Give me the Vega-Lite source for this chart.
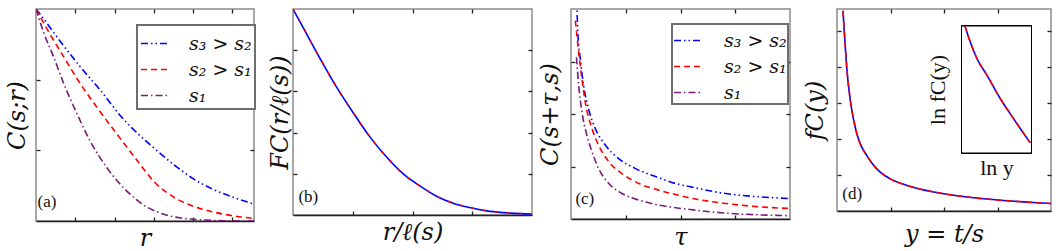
{
  "$schema": "https://vega.github.io/schema/vega-lite/v6.json",
  "padding": {"left": 4, "top": 7, "right": 0, "bottom": 0},
  "bounds": "flush",
  "spacing": 0,
  "resolve": {"scale": {"color": "independent", "strokeDash": "independent"}},
  "datasets": {
    "a": [
      {"series": "s₃ > s₂", "x": 0, "y": 3.0},
      {"series": "s₃ > s₂", "x": 0.114, "y": 2.92},
      {"series": "s₃ > s₂", "x": 0.62, "y": 2.54},
      {"series": "s₃ > s₂", "x": 1.13, "y": 2.18},
      {"series": "s₃ > s₂", "x": 1.64, "y": 1.85},
      {"series": "s₃ > s₂", "x": 2.15, "y": 1.49},
      {"series": "s₃ > s₂", "x": 2.74, "y": 1.16},
      {"series": "s₃ > s₂", "x": 3.0, "y": 1.035},
      {"series": "s₃ > s₂", "x": 3.5, "y": 0.8},
      {"series": "s₃ > s₂", "x": 4.0, "y": 0.6},
      {"series": "s₃ > s₂", "x": 4.5, "y": 0.45},
      {"series": "s₃ > s₂", "x": 5.0, "y": 0.34},
      {"series": "s₃ > s₂", "x": 5.55, "y": 0.24},
      {"series": "s₂ > s₁", "x": 0, "y": 3.0},
      {"series": "s₂ > s₁", "x": 0.37, "y": 2.63},
      {"series": "s₂ > s₁", "x": 0.71, "y": 2.32},
      {"series": "s₂ > s₁", "x": 1.13, "y": 1.94},
      {"series": "s₂ > s₁", "x": 1.55, "y": 1.61},
      {"series": "s₂ > s₁", "x": 2.06, "y": 1.23},
      {"series": "s₂ > s₁", "x": 2.57, "y": 0.86},
      {"series": "s₂ > s₁", "x": 3.0, "y": 0.56},
      {"series": "s₂ > s₁", "x": 3.5, "y": 0.34},
      {"series": "s₂ > s₁", "x": 4.0, "y": 0.21},
      {"series": "s₂ > s₁", "x": 4.5, "y": 0.13},
      {"series": "s₂ > s₁", "x": 5.0, "y": 0.075},
      {"series": "s₂ > s₁", "x": 5.55, "y": 0.035},
      {"series": "s₁", "x": 0, "y": 3.0},
      {"series": "s₁", "x": 0.2, "y": 2.66},
      {"series": "s₁", "x": 0.45, "y": 2.32},
      {"series": "s₁", "x": 0.71, "y": 1.94},
      {"series": "s₁", "x": 1.05, "y": 1.51},
      {"series": "s₁", "x": 1.38, "y": 1.13},
      {"series": "s₁", "x": 1.81, "y": 0.75},
      {"series": "s₁", "x": 2.32, "y": 0.42},
      {"series": "s₁", "x": 2.82, "y": 0.2},
      {"series": "s₁", "x": 3.08, "y": 0.13},
      {"series": "s₁", "x": 3.5, "y": 0.06},
      {"series": "s₁", "x": 4.0, "y": 0.025},
      {"series": "s₁", "x": 4.5, "y": 0.008},
      {"series": "s₁", "x": 5.0, "y": 0.002},
      {"series": "s₁", "x": 5.55, "y": 0.0}
    ],
    "b": [
      {"x": 0, "y": 5.0},
      {"x": 0.177, "y": 4.53},
      {"x": 0.456, "y": 3.79},
      {"x": 0.735, "y": 3.09},
      {"x": 1.013, "y": 2.47},
      {"x": 1.29, "y": 1.89},
      {"x": 1.57, "y": 1.4},
      {"x": 1.85, "y": 0.99},
      {"x": 2.13, "y": 0.7},
      {"x": 2.41, "y": 0.45},
      {"x": 2.68, "y": 0.287},
      {"x": 2.96, "y": 0.18},
      {"x": 3.24, "y": 0.1},
      {"x": 3.52, "y": 0.057},
      {"x": 4.0, "y": 0.025}
    ],
    "c": [
      {"series": "s₃ > s₂", "x": 0.1, "y": 4.25},
      {"series": "s₃ > s₂", "x": 0.128, "y": 3.49},
      {"series": "s₃ > s₂", "x": 0.17, "y": 3.05},
      {"series": "s₃ > s₂", "x": 0.23, "y": 2.545},
      {"series": "s₃ > s₂", "x": 0.32, "y": 2.1},
      {"series": "s₃ > s₂", "x": 0.445, "y": 1.72},
      {"series": "s₃ > s₂", "x": 0.63, "y": 1.405},
      {"series": "s₃ > s₂", "x": 0.87, "y": 1.15},
      {"series": "s₃ > s₂", "x": 1.18, "y": 0.96},
      {"series": "s₃ > s₂", "x": 1.57, "y": 0.8},
      {"series": "s₃ > s₂", "x": 1.91, "y": 0.676},
      {"series": "s₃ > s₂", "x": 2.18, "y": 0.613},
      {"series": "s₃ > s₂", "x": 2.79, "y": 0.49},
      {"series": "s₃ > s₂", "x": 3.4, "y": 0.425},
      {"series": "s₃ > s₂", "x": 4.0, "y": 0.39},
      {"series": "s₂ > s₁", "x": 0.08, "y": 3.78},
      {"series": "s₂ > s₁", "x": 0.14, "y": 3.18},
      {"series": "s₂ > s₁", "x": 0.2, "y": 2.67},
      {"series": "s₂ > s₁", "x": 0.26, "y": 2.23},
      {"series": "s₂ > s₁", "x": 0.384, "y": 1.72},
      {"series": "s₂ > s₁", "x": 0.505, "y": 1.405},
      {"series": "s₂ > s₁", "x": 0.69, "y": 1.09},
      {"series": "s₂ > s₁", "x": 0.93, "y": 0.866},
      {"series": "s₂ > s₁", "x": 1.24, "y": 0.676},
      {"series": "s₂ > s₁", "x": 1.6, "y": 0.55},
      {"series": "s₂ > s₁", "x": 1.91, "y": 0.467},
      {"series": "s₂ > s₁", "x": 2.18, "y": 0.4},
      {"series": "s₂ > s₁", "x": 2.79, "y": 0.3},
      {"series": "s₂ > s₁", "x": 3.4, "y": 0.235},
      {"series": "s₂ > s₁", "x": 4.0, "y": 0.2},
      {"series": "s₁", "x": 0.1, "y": 3.08},
      {"series": "s₁", "x": 0.14, "y": 2.545},
      {"series": "s₁", "x": 0.2, "y": 2.04},
      {"series": "s₁", "x": 0.29, "y": 1.595},
      {"series": "s₁", "x": 0.384, "y": 1.28},
      {"series": "s₁", "x": 0.505, "y": 0.96},
      {"series": "s₁", "x": 0.69, "y": 0.676},
      {"series": "s₁", "x": 0.93, "y": 0.486},
      {"series": "s₁", "x": 1.24, "y": 0.36},
      {"series": "s₁", "x": 1.6, "y": 0.266},
      {"series": "s₁", "x": 1.91, "y": 0.215},
      {"series": "s₁", "x": 2.18, "y": 0.18},
      {"series": "s₁", "x": 2.79, "y": 0.115},
      {"series": "s₁", "x": 3.4, "y": 0.08},
      {"series": "s₁", "x": 4.0, "y": 0.063}
    ],
    "d": [
      {"x": 0.112, "y": 5.55},
      {"x": 0.136, "y": 4.98},
      {"x": 0.187, "y": 3.89},
      {"x": 0.249, "y": 3.07},
      {"x": 0.31, "y": 2.53},
      {"x": 0.404, "y": 1.98},
      {"x": 0.56, "y": 1.53},
      {"x": 0.748, "y": 1.16},
      {"x": 0.996, "y": 0.89},
      {"x": 1.31, "y": 0.71},
      {"x": 1.81, "y": 0.526},
      {"x": 2.43, "y": 0.39},
      {"x": 3.05, "y": 0.3},
      {"x": 3.67, "y": 0.235},
      {"x": 4.0, "y": 0.207}
    ],
    "inset": [
      {"x": 0.049, "y": 1.0},
      {"x": 0.124, "y": 0.876},
      {"x": 0.22, "y": 0.744},
      {"x": 0.363, "y": 0.613},
      {"x": 0.553, "y": 0.429},
      {"x": 0.743, "y": 0.271},
      {"x": 0.981, "y": 0.081}
    ]
  },
  "hconcat": [
    {
      "width": 218,
      "height": 212,
      "resolve": {"scale": {"x": "independent", "y": "independent"}},
      "layer": [
        {
          "data": {"name": "a"},
          "mark": {"type": "line", "strokeWidth": 1.6, "clip": true, "interpolate": "monotone"},
          "encoding": {
            "x": {"field": "x", "type": "quantitative", "scale": {"domain": [0, 5.55], "nice": false, "zero": false},
                  "axis": {"orient": "bottom", "values": [1, 2, 3, 4, 5], "title": "r", "titlePadding": 5}},
            "y": {"field": "y", "type": "quantitative", "scale": {"domain": [0, 3], "nice": false},
                  "axis": {"orient": "left", "values": [1, 2], "title": "C(s;r)", "titlePadding": 6, "domain": false}},
            "color": {"field": "series", "type": "nominal",
                      "scale": {"domain": ["s₃ > s₂", "s₂ > s₁", "s₁"], "range": ["#0000ff", "#ff0000", "#7a1a7a"]},
                      "legend": {"title": null, "orient": "none", "legendX": 101, "legendY": 16, "symbolType": "stroke", "symbolSize": 841, "symbolStrokeWidth": 1.6, "labelFont": "DejaVu Serif", "labelFontStyle": "italic", "labelFontSize": 19, "labelColor": "#111", "labelOffset": 18, "padding": 3, "rowPadding": -2, "strokeColor": "#6e6e6e", "fillColor": "#ffffff", "encode": {"legend": {"update": {"strokeWidth": {"value": 2}}}}}},
            "strokeDash": {"field": "series", "type": "nominal",
                      "scale": {"domain": ["s₃ > s₂", "s₂ > s₁", "s₁"], "range": [[7, 3, 1.5, 3, 1.5, 3], [6, 4], [7, 3, 1.5, 3]]},
                      "legend": {"title": null, "orient": "none", "legendX": 101, "legendY": 16, "symbolType": "stroke", "symbolSize": 841, "symbolStrokeWidth": 1.6, "labelFont": "DejaVu Serif", "labelFontStyle": "italic", "labelFontSize": 19, "labelColor": "#111", "labelOffset": 18, "padding": 3, "rowPadding": -2, "strokeColor": "#6e6e6e", "fillColor": "#ffffff", "encode": {"legend": {"update": {"strokeWidth": {"value": 2}}}}}}
          }
        },
        {
          "data": {"values": [{"label": "(a)"}]},
          "mark": {"type": "text", "font": "Liberation Serif", "fontSize": 17, "align": "left", "baseline": "middle", "color": "#111"},
          "encoding": {
            "x": {"datum": 0.04, "type": "quantitative", "scale": {"domain": [0, 5.55], "nice": false, "zero": false},
                  "axis": {"orient": "top", "values": [1, 2, 3, 4, 5], "title": null, "domain": false}},
            "y": {"datum": 0.27, "type": "quantitative", "scale": {"domain": [0, 3], "nice": false},
                  "axis": {"orient": "right", "values": [1, 2], "title": null, "domain": false}},
            "text": {"field": "label"}
          }
        }
      ]
    },
    {"width": 39, "height": 10, "view": {"stroke": null}, "data": {"values": []}, "mark": "text", "encoding": {}},
    {
      "width": 239,
      "height": 206,
      "resolve": {"scale": {"x": "independent", "y": "independent"}},
      "layer": [
        {
          "data": {"name": "b"},
          "mark": {"type": "line", "strokeWidth": 1.6, "color": "#0000ff", "clip": true, "interpolate": "monotone"},
          "encoding": {
            "x": {"field": "x", "type": "quantitative", "scale": {"domain": [0, 4], "nice": false, "zero": false},
                  "axis": {"orient": "bottom", "values": [1, 2, 3], "title": "r/ℓ(s)", "titlePadding": 5}},
            "y": {"field": "y", "type": "quantitative", "scale": {"domain": [0, 5], "nice": false},
                  "axis": {"orient": "left", "values": [1, 2, 3, 4], "title": "FC(r/ℓ(s))", "titlePadding": 0, "domain": false}}
          }
        },
        {
          "data": {"name": "b"},
          "mark": {"type": "line", "strokeWidth": 1.6, "color": "#ff0000", "strokeDash": [3, 9], "clip": true, "interpolate": "monotone"},
          "encoding": {
            "x": {"field": "x", "type": "quantitative", "scale": {"domain": [0, 4], "nice": false, "zero": false},
                  "axis": {"orient": "top", "values": [1, 2, 3], "title": null, "domain": false}},
            "y": {"field": "y", "type": "quantitative", "scale": {"domain": [0, 5], "nice": false},
                  "axis": {"orient": "right", "values": [1, 2, 3, 4], "title": null, "domain": false}}
          }
        },
        {
          "data": {"values": [{"label": "(b)"}]},
          "mark": {"type": "text", "font": "Liberation Serif", "fontSize": 17, "align": "left", "baseline": "middle", "color": "#111"},
          "encoding": {
            "x": {"datum": 0.09, "type": "quantitative", "scale": {"domain": [0, 4], "nice": false, "zero": false}, "axis": null},
            "y": {"datum": 0.44, "type": "quantitative", "scale": {"domain": [0, 5], "nice": false}, "axis": null},
            "text": {"field": "label"}
          }
        }
      ]
    },
    {"width": 39, "height": 10, "view": {"stroke": null}, "data": {"values": []}, "mark": "text", "encoding": {}},
    {
      "width": 219,
      "height": 210,
      "resolve": {"scale": {"x": "independent", "y": "independent"}},
      "layer": [
        {
          "data": {"name": "c"},
          "mark": {"type": "line", "strokeWidth": 1.6, "clip": true, "interpolate": "monotone"},
          "encoding": {
            "x": {"field": "x", "type": "quantitative", "scale": {"domain": [0, 4], "nice": false, "zero": false},
                  "axis": {"orient": "bottom", "values": [1, 2, 3], "title": "τ", "titlePadding": 6}},
            "y": {"field": "y", "type": "quantitative", "scale": {"domain": [0, 4], "nice": false},
                  "axis": {"orient": "left", "values": [1, 2, 3], "title": "C(s+τ,s)", "titlePadding": 8, "domain": false}},
            "color": {"field": "series", "type": "nominal",
                      "scale": {"domain": ["s₃ > s₂", "s₂ > s₁", "s₁"], "range": ["#0000ff", "#ff0000", "#7a1a7a"]},
                      "legend": {"title": null, "orient": "none", "legendX": 101, "legendY": 15, "symbolType": "stroke", "symbolSize": 841, "symbolStrokeWidth": 1.6, "labelFont": "DejaVu Serif", "labelFontStyle": "italic", "labelFontSize": 19, "labelColor": "#111", "labelOffset": 20, "padding": 1, "rowPadding": -5, "strokeColor": "#6e6e6e", "fillColor": "#ffffff", "encode": {"legend": {"update": {"strokeWidth": {"value": 2}}}}}},
            "strokeDash": {"field": "series", "type": "nominal",
                      "scale": {"domain": ["s₃ > s₂", "s₂ > s₁", "s₁"], "range": [[7, 3, 1.5, 3, 1.5, 3], [6, 4], [7, 3, 1.5, 3]]},
                      "legend": {"title": null, "orient": "none", "legendX": 101, "legendY": 15, "symbolType": "stroke", "symbolSize": 841, "symbolStrokeWidth": 1.6, "labelFont": "DejaVu Serif", "labelFontStyle": "italic", "labelFontSize": 19, "labelColor": "#111", "labelOffset": 20, "padding": 1, "rowPadding": -5, "strokeColor": "#6e6e6e", "fillColor": "#ffffff", "encode": {"legend": {"update": {"strokeWidth": {"value": 2}}}}}}
          }
        },
        {
          "data": {"values": [{"label": "(c)"}]},
          "mark": {"type": "text", "font": "Liberation Serif", "fontSize": 17, "align": "left", "baseline": "middle", "color": "#111"},
          "encoding": {
            "x": {"datum": 0.08, "type": "quantitative", "scale": {"domain": [0, 4], "nice": false, "zero": false},
                  "axis": {"orient": "top", "values": [1, 2, 3], "title": null, "domain": false}},
            "y": {"datum": 0.39, "type": "quantitative", "scale": {"domain": [0, 4], "nice": false},
                  "axis": {"orient": "right", "values": [1, 2, 3], "title": null, "domain": false}},
            "text": {"field": "label"}
          }
        }
      ]
    },
    {"width": 47, "height": 10, "view": {"stroke": null}, "data": {"values": []}, "mark": "text", "encoding": {}},
    {
      "width": 214,
      "height": 202,
      "resolve": {"scale": {"x": "independent", "y": "independent"}},
      "layer": [
        {
          "data": {"name": "d"},
          "mark": {"type": "line", "strokeWidth": 1.6, "color": "#0000ff", "clip": true, "interpolate": "monotone"},
          "encoding": {
            "x": {"field": "x", "type": "quantitative", "scale": {"domain": [0, 4], "nice": false, "zero": false},
                  "axis": {"orient": "bottom", "values": [1, 2, 3], "title": "y = t/s", "titlePadding": 11}},
            "y": {"field": "y", "type": "quantitative", "scale": {"domain": [0, 5.6], "nice": false},
                  "axis": {"orient": "left", "values": [1, 2, 3, 4, 5], "title": "fC(y)", "titlePadding": 9, "domain": false}}
          }
        },
        {
          "data": {"name": "d"},
          "mark": {"type": "line", "strokeWidth": 1.6, "color": "#ff0000", "strokeDash": [6, 4], "clip": true, "interpolate": "monotone"},
          "encoding": {
            "x": {"field": "x", "type": "quantitative", "scale": {"domain": [0, 4], "nice": false, "zero": false},
                  "axis": {"orient": "top", "values": [1, 2, 3], "title": null, "domain": false}},
            "y": {"field": "y", "type": "quantitative", "scale": {"domain": [0, 5.6], "nice": false},
                  "axis": {"orient": "right", "values": [1, 2, 3, 4, 5], "title": null, "domain": false}}
          }
        },
        {
          "data": {"name": "inset"},
          "encoding": {
            "x": {"field": "x", "type": "quantitative", "scale": {"domain": [0, 1], "nice": false, "zero": false, "range": [124.5, 194.5]},
                  "axis": {"orient": "bottom", "offset": -58, "title": "ln y", "titleFont": "Liberation Serif", "titleFontStyle": "normal", "titleFontSize": 22, "titlePadding": 4, "domain": false, "ticks": false}},
            "y": {"field": "y", "type": "quantitative", "scale": {"domain": [0, 1], "nice": false, "zero": false, "range": [144, 17]},
                  "axis": {"orient": "left", "offset": -124.5, "title": "ln fC(y)", "titleFont": "Liberation Serif", "titleFontStyle": "normal", "titleFontSize": 22, "titlePadding": 12, "domain": false, "ticks": false}}
          },
          "layer": [
            {
              "mark": {"type": "rect", "fill": "#ffffff", "stroke": "#000000", "strokeWidth": 1},
              "encoding": {
                "x": {"datum": 0, "type": "quantitative"},
                "x2": {"datum": 1},
                "y": {"datum": 0, "type": "quantitative"},
                "y2": {"datum": 1}
              }
            },
            {"mark": {"type": "line", "strokeWidth": 1.6, "color": "#0000ff", "interpolate": "monotone"}},
            {"mark": {"type": "line", "strokeWidth": 1.6, "color": "#ff0000", "strokeDash": [6, 4], "interpolate": "monotone"}}
          ]
        },
        {
          "data": {"values": [{"label": "(d)"}]},
          "mark": {"type": "text", "font": "Liberation Serif", "fontSize": 17, "align": "left", "baseline": "middle", "color": "#111"},
          "encoding": {
            "x": {"datum": 0.1, "type": "quantitative", "scale": {"domain": [0, 4], "nice": false, "zero": false}, "axis": null},
            "y": {"datum": 0.46, "type": "quantitative", "scale": {"domain": [0, 5.6], "nice": false}, "axis": null},
            "text": {"field": "label"}
          }
        }
      ]
    }
  ],
  "config": {
    "font": "Liberation Serif",
    "view": {"stroke": "#8c8c8c", "strokeWidth": 1.5},
    "axis": {"labels": false, "grid": false, "tickSize": -4, "tickColor": "#222222", "tickWidth": 1.3, "domainColor": "#222222", "domainWidth": 1.5,
             "titleFont": "DejaVu Serif", "titleFontStyle": "italic", "titleFontWeight": "normal", "titleFontSize": 24, "titleColor": "#111111"}
  }
}
